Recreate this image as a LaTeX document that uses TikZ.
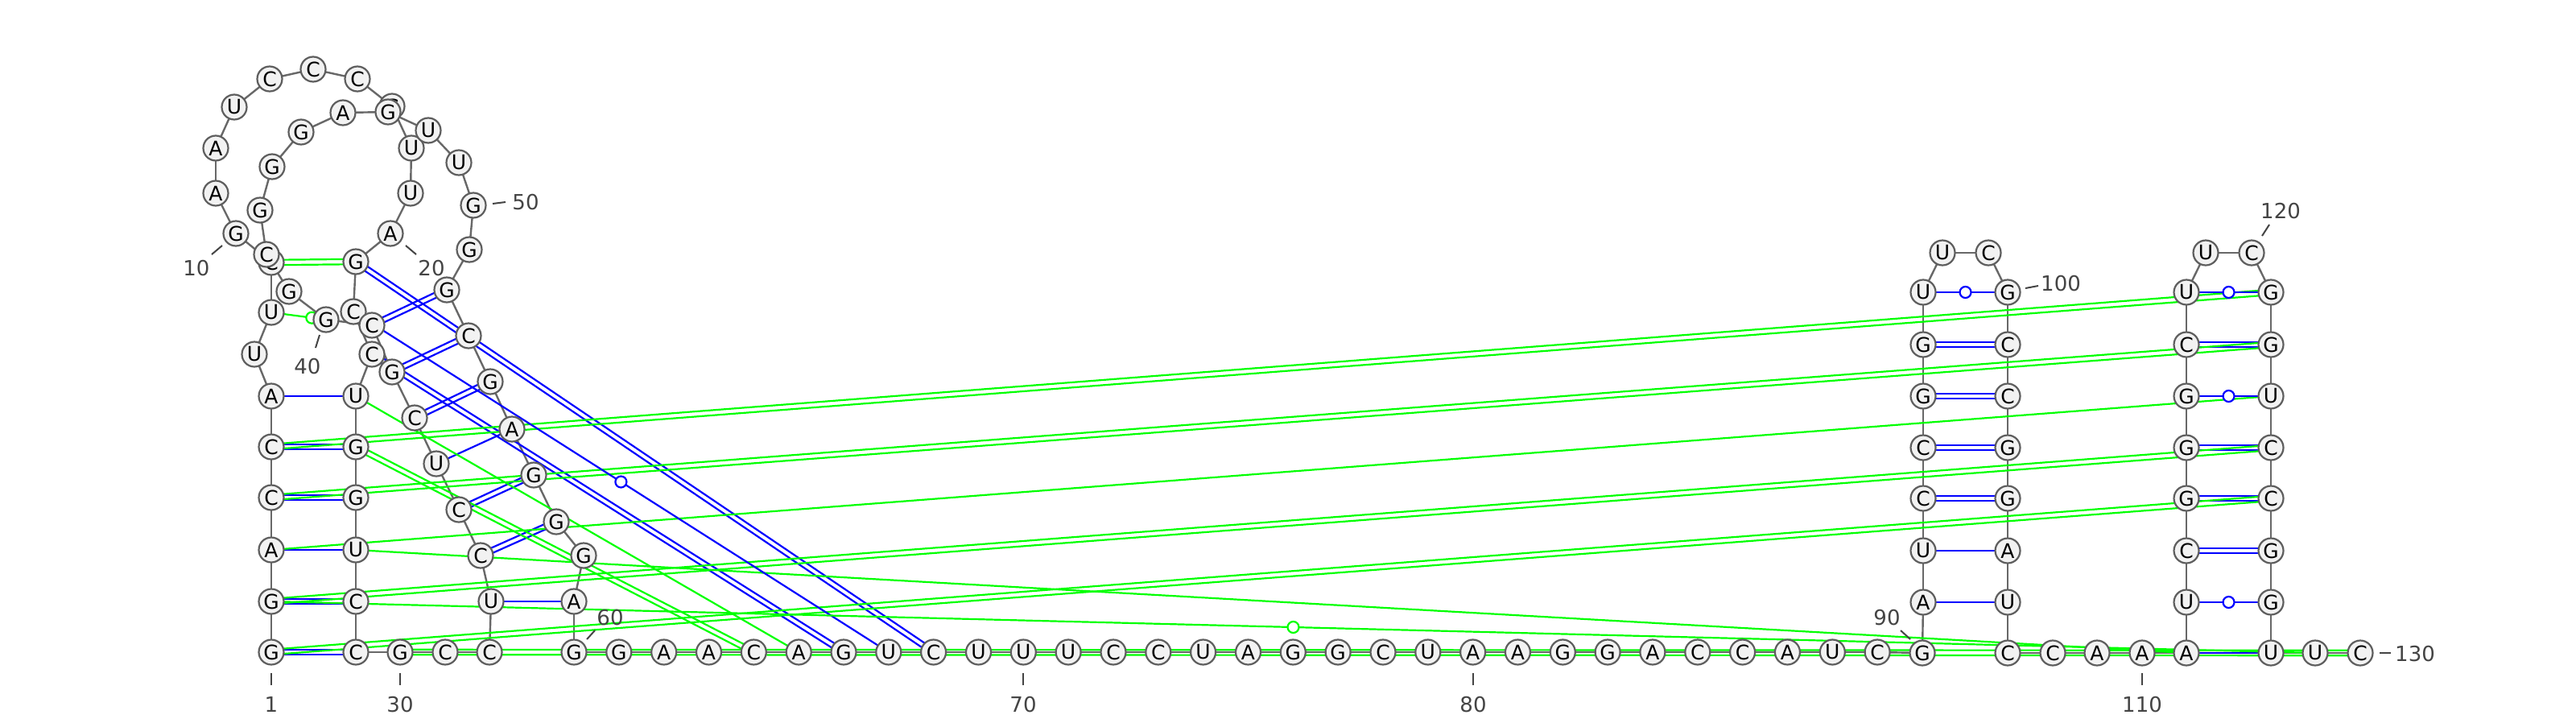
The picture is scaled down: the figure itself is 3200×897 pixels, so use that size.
\documentclass[tikz,border=0pt]{standalone}
\usepackage{fontspec}
\setmainfont{DejaVu Sans}
\usetikzlibrary{calc,backgrounds}
\definecolor{ntfill}{HTML}{F2F2F2}
\definecolor{ntline}{HTML}{5E5E5E}
\definecolor{bbone}{HTML}{686868}
\definecolor{pblue}{HTML}{0000FF}
\definecolor{pgreen}{HTML}{00FF00}
\definecolor{lblgray}{HTML}{444444}
\tikzset{
  nt/.style={circle, draw=ntline, fill=ntfill, line width=2.2pt, minimum size=31pt, inner sep=0pt, font=\fontsize{25}{25}\selectfont},
  bb/.style={draw=bbone, line width=2.4pt},
  pairline/.style={line width=2.2pt},
  wob/.style={circle, fill=white, minimum size=14pt, inner sep=0pt, line width=2.2pt},
  lbl/.style={font=\fontsize{26}{26}\selectfont, text=lblgray, inner sep=0pt},
  tickl/.style={draw=lblgray, line width=2pt}
}
\newcommand{\nt}[4]{\node[nt] (n#1) at (#2,#3) {#4};}
\newcommand{\dpr}[3]{%
  \draw[#3, pairline] ($(n#1)!3.2pt!90:(n#2)$) -- ($(n#2)!3.2pt!-90:(n#1)$);
  \draw[#3, pairline] ($(n#1)!3.2pt!-90:(n#2)$) -- ($(n#2)!3.2pt!90:(n#1)$);}
\newcommand{\spr}[3]{\draw[#3, pairline] (n#1.center) -- (n#2.center);}
\newcommand{\wpr}[4][0.5]{\draw[#4, pairline] (n#2.center) -- (n#3.center) node[pos=#1, wob, draw=#4] {};}
\begin{document}
\begin{tikzpicture}[x=1pt,y=-1pt]
\useasboundingbox (0,0) rectangle (3200,897);
% nucleotides
\nt{1}{337}{810}{G}
\nt{2}{337}{747}{G}
\nt{3}{337}{683}{A}
\nt{4}{337}{618}{C}
\nt{5}{337}{555}{C}
\nt{6}{337}{492}{A}
\nt{7}{316}{440}{U}
\nt{8}{337}{388}{U}
\nt{9}{337}{326}{C}
\nt{10}{293}{290}{G}
\nt{11}{268}{240}{A}
\nt{12}{268}{184}{A}
\nt{13}{291}{133}{U}
\nt{14}{335}{98}{C}
\nt{15}{389}{86}{C}
\nt{16}{444}{98}{C}
\nt{17}{487}{132}{G}
\nt{18}{511}{184}{U}
\nt{19}{510}{240}{U}
\nt{20}{485}{290}{A}
\nt{21}{442}{325}{G}
\nt{22}{439}{387}{C}
\nt{23}{462}{440}{C}
\nt{24}{442}{492}{U}
\nt{25}{442}{555}{G}
\nt{26}{442}{618}{G}
\nt{27}{442}{683}{U}
\nt{28}{442}{747}{C}
\nt{29}{442}{810}{C}
\nt{30}{497}{810}{G}
\nt{31}{553}{810}{C}
\nt{32}{608}{810}{C}
\nt{33}{610}{747}{U}
\nt{34}{597}{690}{C}
\nt{35}{570}{633}{C}
\nt{36}{542}{576}{U}
\nt{37}{515}{519}{C}
\nt{38}{487}{462}{G}
\nt{39}{462}{404}{C}
\nt{40}{405}{397}{G}
\nt{41}{359}{362}{G}
\nt{42}{331}{316}{C}
\nt{43}{323}{261}{G}
\nt{44}{338}{207}{G}
\nt{45}{374}{164}{G}
\nt{46}{426}{140}{A}
\nt{47}{482}{139}{G}
\nt{48}{532}{162}{U}
\nt{49}{570}{202}{U}
\nt{50}{588}{255}{G}
\nt{51}{583}{310}{G}
\nt{52}{555}{360}{G}
\nt{53}{582}{417}{C}
\nt{54}{609}{474}{G}
\nt{55}{636}{533}{A}
\nt{56}{663}{590}{G}
\nt{57}{691}{648}{G}
\nt{58}{725}{690}{G}
\nt{59}{713}{747}{A}
\nt{60}{713}{810}{G}
\nt{61}{768.8}{810}{G}
\nt{62}{824.7}{810}{A}
\nt{63}{880.5}{810}{A}
\nt{64}{936.3}{810}{C}
\nt{65}{992.2}{810}{A}
\nt{66}{1048}{810}{G}
\nt{67}{1103.8}{810}{U}
\nt{68}{1159.6}{810}{C}
\nt{69}{1215.5}{810}{U}
\nt{70}{1271.3}{810}{U}
\nt{71}{1327.1}{810}{U}
\nt{72}{1383}{810}{C}
\nt{73}{1438.8}{810}{C}
\nt{74}{1494.6}{810}{U}
\nt{75}{1550.5}{810}{A}
\nt{76}{1606.3}{810}{G}
\nt{77}{1662.1}{810}{G}
\nt{78}{1718}{810}{C}
\nt{79}{1773.8}{810}{U}
\nt{80}{1829.6}{810}{A}
\nt{81}{1885.4}{810}{A}
\nt{82}{1941.3}{810}{G}
\nt{83}{1997.1}{810}{G}
\nt{84}{2052.9}{810}{A}
\nt{85}{2108.8}{810}{C}
\nt{86}{2164.6}{810}{C}
\nt{87}{2220.4}{810}{A}
\nt{88}{2276.3}{810}{U}
\nt{89}{2332.1}{810}{C}
\nt{90}{2388}{811}{G}
\nt{91}{2389}{748}{A}
\nt{92}{2389}{684}{U}
\nt{93}{2389}{619}{C}
\nt{94}{2389}{556}{C}
\nt{95}{2389}{492}{G}
\nt{96}{2389}{428}{G}
\nt{97}{2389}{363}{U}
\nt{98}{2413}{314}{U}
\nt{99}{2470}{314}{C}
\nt{100}{2494}{363}{G}
\nt{101}{2494}{428}{C}
\nt{102}{2494}{492}{C}
\nt{103}{2494}{556}{G}
\nt{104}{2494}{619}{G}
\nt{105}{2494}{684}{A}
\nt{106}{2494}{748}{U}
\nt{107}{2494}{811}{C}
\nt{108}{2550}{811}{C}
\nt{109}{2605}{811}{A}
\nt{110}{2661}{811}{A}
\nt{111}{2716}{811}{A}
\nt{112}{2716}{748}{U}
\nt{113}{2716}{684}{C}
\nt{114}{2716}{619}{G}
\nt{115}{2716}{556}{G}
\nt{116}{2716}{492}{G}
\nt{117}{2716}{428}{C}
\nt{118}{2716}{363}{U}
\nt{119}{2740}{314}{U}
\nt{120}{2797}{314}{C}
\nt{121}{2821}{363}{G}
\nt{122}{2821}{428}{G}
\nt{123}{2821}{492}{U}
\nt{124}{2821}{556}{C}
\nt{125}{2821}{619}{C}
\nt{126}{2821}{684}{G}
\nt{127}{2821}{748}{G}
\nt{128}{2821}{811}{U}
\nt{129}{2876}{811}{U}
\nt{130}{2932}{811}{C}
% lines behind
\begin{scope}[on background layer]
\foreach \i [evaluate=\i as \j using int(\i+1)] in {1,...,129} {\draw[bb] (n\i.center) -- (n\j.center);}
% blue pairs
\dpr{1}{29}{pblue}
\dpr{2}{28}{pblue}
\spr{3}{27}{pblue}
\dpr{4}{26}{pblue}
\dpr{5}{25}{pblue}
\spr{6}{24}{pblue}
\dpr{21}{68}{pblue}
\dpr{23}{66}{pblue}
\spr{33}{59}{pblue}
\dpr{34}{57}{pblue}
\dpr{35}{56}{pblue}
\spr{36}{55}{pblue}
\dpr{37}{54}{pblue}
\dpr{38}{53}{pblue}
\dpr{39}{52}{pblue}
\spr{91}{106}{pblue}
\spr{92}{105}{pblue}
\dpr{93}{104}{pblue}
\dpr{94}{103}{pblue}
\dpr{95}{102}{pblue}
\dpr{96}{101}{pblue}
\spr{111}{128}{pblue}
\dpr{113}{126}{pblue}
\dpr{114}{125}{pblue}
\dpr{115}{124}{pblue}
\dpr{117}{122}{pblue}
% green pairs
\dpr{9}{21}{pgreen}
\dpr{5}{121}{pgreen}
\dpr{4}{122}{pgreen}
\spr{3}{123}{pgreen}
\dpr{2}{124}{pgreen}
\dpr{1}{125}{pgreen}
\dpr{25}{64}{pgreen}
\spr{24}{65}{pgreen}
\spr{27}{111}{pgreen}
\dpr{30}{130}{pgreen}
% wobble / non-canonical
\wpr{22}{67}{pblue}
\wpr{97}{100}{pblue}
\wpr{116}{123}{pblue}
\wpr{118}{121}{pblue}
\wpr{112}{127}{pblue}
\wpr[0.74]{8}{40}{pgreen}
\wpr{2}{129}{pgreen}
\end{scope}
% numbering
\draw[tickl] (337,836) -- (337,851); \node[lbl] (l1) at (337,875) {1};
\draw[tickl] (497,836) -- (497,851); \node[lbl] (l30) at (497,875) {30};
\draw[tickl] (1271,836) -- (1271,851); \node[lbl] (l70) at (1271,875) {70};
\draw[tickl] (1830,836) -- (1830,851); \node[lbl] (l80) at (1830,875) {80};
\draw[tickl] (2661,836) -- (2661,851); \node[lbl] (l110) at (2661,875) {110};
\draw[tickl] (276,305) -- (263,316); \node[lbl] (l10) at (244,333) {10};
\draw[tickl] (504,305) -- (517,316); \node[lbl] (l20) at (536,333) {20};
\draw[tickl] (397,416) -- (392,432); \node[lbl] (l40) at (382,455) {40};
\draw[tickl] (612,253) -- (628,251); \node[lbl] (l50) at (653,251) {50};
\draw[tickl] (739,783) -- (729,794); \node[lbl] (l60) at (758,767) {60};
\draw[tickl] (2361,783) -- (2373,794); \node[lbl] (l90) at (2344,767) {90};
\draw[tickl] (2516,358) -- (2532,355); \node[lbl] (l100) at (2560,352) {100};
\draw[tickl] (2819,279) -- (2810,293); \node[lbl] (l120) at (2833,262) {120};
\draw[tickl] (2956,811) -- (2970,811); \node[lbl] (l130) at (3000,812) {130};
\end{tikzpicture}
\end{document}
